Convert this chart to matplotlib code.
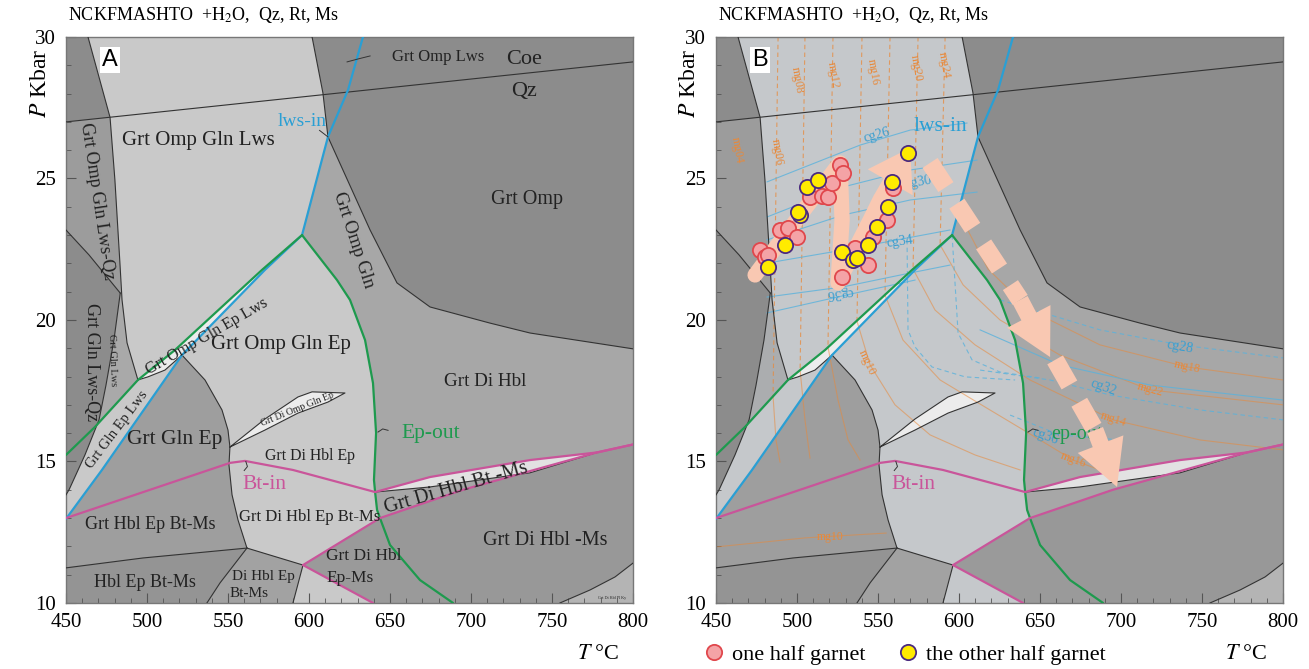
import matplotlib
matplotlib.use("Agg")
import matplotlib.pyplot as plt
from matplotlib.lines import Line2D

plt.rcParams["font.family"] = ["Liberation Serif", "DejaVu Serif"]
plt.rcParams["mathtext.fontset"] = "stix"

# ---- phase boundaries (T degC, P kbar) ----
coe_qz = [(450, 27.0), (800, 29.12)]
top_left = [(463.6, 30), (477.2, 27.16), (480.2, 24.95), (483.3, 22.01), (484.6, 20.71), (487.7, 19.19), (494.4, 17.88)]
lws_wedge = [(601.9, 30), (608.6, 28.02), (611.7, 26.47)]
omp_edge = [(611.7, 26.47), (637.7, 23.18), (654.3, 21.31), (674.7, 20.46), (711.7, 19.89), (736.4, 19.54), (800, 18.98)]
qz_edge = [(450, 23.18), (464.2, 22.3), (483.5, 20.95)]
gln_lws_edge = [(483.5, 20.95), (479.6, 19.29), (474.7, 17.7), (470.4, 16.47), (461.7, 15.23), (451.9, 14.0), (450, 13.82)]
lens_curve = [(494.4, 17.88), (500.6, 17.99), (511.1, 18.23), (521.6, 18.76)]
gln_ep_edge = [(521.6, 18.76), (535.8, 17.88), (546.3, 16.82), (550.0, 16.11), (551.2, 15.51), (550.6, 14.88), (552.5, 13.82), (556.2, 12.93), (561.7, 11.94)]
hbl_edge = [(450, 11.24), (497.5, 11.59), (561.7, 11.94)]
di_left = [(561.7, 11.94), (545.1, 10.71), (537.0, 10.0)]
di_right = [(561.7, 11.94), (596.3, 11.34), (590.1, 10.0)]
omp_lens = [(551.2, 15.51), (572.8, 16.5), (593.2, 17.28), (601.9, 17.46), (622.2, 17.42), (611.7, 17.1), (593.2, 16.71), (572.8, 16.11), (551.2, 15.51)]
bt_wedge = [(640.8, 13.92), (674.7, 14.1), (736.4, 14.6), (777.8, 15.32)]
corner_br = [(754.9, 10.0), (773.5, 10.46), (788.9, 10.92), (800, 11.41)]

lws_in = [(633.3, 30), (624.1, 28.13), (611.7, 26.47), (595.7, 23.0), (572.8, 21.77), (521.6, 18.76), (472.2, 14.7), (450, 12.97)]
ep_out_left = [(595.7, 23.0), (571.0, 21.77), (517.3, 18.94), (494.4, 17.88), (467.9, 16.22), (450, 15.23)]
ep_out = [(595.7, 23.0), (617.3, 21.41), (625.3, 20.71), (634.6, 19.29), (639.5, 17.77), (641.4, 16.01),
          (640.1, 14.35), (640.8, 13.92), (642.0, 13.29), (643.8, 13.0), (650.0, 12.05), (668.5, 10.81), (688.9, 10.0)]
bt_in = [(450, 13.0), (501.9, 14.0), (551.2, 14.95), (560.5, 15.02), (590.1, 14.7), (640.8, 13.92)]
bt_upper = [(640.8, 13.92), (674.7, 14.45), (736.4, 15.05), (777.8, 15.32), (800, 15.6)]
ms_out = [(596.3, 11.34), (643.8, 13.0), (695.0, 14.0), (777.8, 15.32), (800, 15.6)]
ms_low = [(596.3, 11.34), (639.5, 10.0)]

# ---- fields (polygons built from the boundaries) ----
fields = [
    ("dark", [(450, 30), (463.6, 30), (477.2, 27.16), (450, 27.0)]),
    ("dark", lws_wedge + omp_edge[1:] + [(800, 30)]),
    ("strip", [(450, 27.0), (477.2, 27.16), (480.2, 24.95), (483.3, 22.01), (483.5, 20.95), (464.2, 22.3), (450, 23.18)]),
    ("dark", qz_edge + gln_lws_edge[1:]),
    ("light", [(463.6, 30)] + lws_wedge + [(595.7, 23.0), (571.0, 21.77), (517.3, 18.94)] + top_left[::-1][:-1]),
    ("glnlws", [(483.5, 20.95), (484.6, 20.71), (487.7, 19.19), (494.4, 17.88), (469.2, 16.3), (470.4, 16.47), (474.7, 17.7), (479.6, 19.29)]),
    ("light", [(469.2, 16.3)] + lens_curve + [(472.2, 14.7), (450, 12.97), (450, 13.82), (451.9, 14.0), (461.7, 15.23)]),
    ("white", ep_out_left[:4] + lens_curve[1:] + [(572.8, 21.77)]),
    ("light", [(595.7, 23.0), (572.8, 21.77)] + gln_ep_edge + [(596.3, 11.34)] + ep_out[9:0:-1]),
    ("med", [(521.6, 18.76), (472.2, 14.7), (450, 12.97)] + hbl_edge + gln_ep_edge[-2:0:-1]),
    ("hbl", hbl_edge + di_left[1:] + [(450, 10.0)]),
    ("di", di_right + [(537.0, 10.0), (545.1, 10.71)]),
    ("light", [(590.1, 10.0), (596.3, 11.34), (639.5, 10.0)]),
    ("epms", [(596.3, 11.34)] + ep_out[9:] + [(639.5, 10.0)]),
    ("msout", ms_out[1:] + corner_br[::-1] + ep_out[12:9:-1]),
    ("corner", corner_br + [(800, 10.0)]),
    ("sliver", bt_upper[:4] + bt_wedge[-2:0:-1]),
    ("white", omp_lens),
]

black_lines = [coe_qz, top_left, lws_wedge, omp_edge, qz_edge, gln_lws_edge, lens_curve, gln_ep_edge,
               hbl_edge, di_left, di_right, omp_lens, bt_wedge, corner_br]

labels_a = [
    ("Grt Omp Lws", 679.6, 29.29, 12, 0),
    ("Coe", 733.0, 29.19, 16, 0),
    ("Qz", 733.0, 28.09, 16, 0),
    ("Grt Omp Gln Lws", 532.0, 26.33, 15, 0),
    ("Grt Omp", 734.6, 24.24, 14.5, 0),
    ("Grt Omp Gln", 627.2, 22.83, 13.5, -72),
    ("Grt Omp Gln Lws-Qz", 469.1, 24.2, 13, -81.5),
    ("Grt Gln Lws-Qz", 466.0, 18.52, 13, -90),
    ("Grt Gln Lws", 478.4, 18.6, 7.5, -88),
    ("Grt Omp Gln Ep Lws", 537.0, 19.43, 11.5, 30),
    ("Grt Gln Ep Lws", 481.5, 16.11, 10.5, 53),
    ("Grt Omp Gln Ep", 582.7, 19.12, 15, 0),
    ("Grt Di Omp Gln Ep", 592.6, 16.85, 7, 22),
    ("Grt Gln Ep", 517.3, 15.76, 15.5, 0),
    ("Grt Di Hbl", 708.6, 17.81, 13.8, 0),
    ("Grt Di Hbl Ep", 600.6, 15.19, 11.4, 0),
    ("Grt Di Hbl Bt -Ms", 690.7, 14.06, 14.5, 16),
    ("Grt Hbl Ep Bt-Ms", 501.9, 12.76, 13, 0),
    ("Grt Di Hbl Ep Bt-Ms", 600.6, 13.04, 12, 0),
    ("Grt Di Hbl -Ms", 745.7, 12.19, 14.5, 0),
    ("Grt Di Hbl", 634.0, 11.66, 12.5, 0),
    ("Ep-Ms", 625.3, 10.88, 12.5, 0),
    ("Hbl Ep Bt-Ms", 498.8, 10.74, 13, 0),
    ("Di Hbl Ep", 572.0, 10.92, 11, 0),
    ("Bt-Ms", 563.0, 10.35, 11, 0),
    ("Grt Di Hbl Pl Ky", 787.0, 10.18, 3, 0),
]

# ---- isopleths in panel B ----
mg_dashed = [
    [(488.3, 30), (485.2, 17.31)],
    [(504.9, 30), (501.9, 18.23)],
    [(522.2, 30), (519.1, 19.05)],
    [(540.1, 30), (537.0, 19.96)],
    [(557.4, 30), (554.3, 20.88)],
    [(574.7, 30), (571.6, 21.8)],
    [(591.4, 30), (588.3, 22.65)],
]
mg_solid = [
    [(485.2, 17.31), (487.0, 15.76), (489.5, 14.98)],
    [(501.9, 18.23), (504.9, 16.47), (508.0, 15.12)],
    [(519.1, 19.05), (525.3, 17.17), (531.5, 15.76), (538.9, 15.05)],
    [(537.0, 19.96), (545.1, 18.41), (560.5, 17.0), (582.1, 15.94), (609.9, 15.23), (637.7, 14.7)],
    [(554.3, 20.88), (565.4, 19.29), (588.3, 17.88), (619.1, 16.82), (650.0, 15.76), (670.4, 15.05), (687.0, 14.7)],
    [(571.6, 21.8), (585.2, 20.35), (609.9, 19.12), (643.8, 17.88), (695.1, 16.47), (748.8, 15.76), (800, 15.41)],
    [(588.3, 22.65), (602.5, 21.24), (625.3, 20.0), (662.3, 18.76), (717.9, 17.53), (800, 17.0)],
    [(603.7, 23.36), (617.9, 21.8), (643.8, 20.35), (687.0, 19.12), (740.7, 18.34), (800, 17.88)],
    [(450, 11.98), (505.0, 12.3), (555.0, 12.47)],
]
cg_solid = [
    [(481.5, 24.88), (538.9, 26.18), (569.8, 26.71), (604.9, 26.96)],
    [(481.5, 23.64), (528.4, 24.7), (569.8, 25.3), (611.1, 25.65)],
    [(481.5, 22.83), (528.4, 23.71), (569.8, 24.24), (611.1, 24.52)],
    [(481.5, 22.01), (528.4, 22.47), (561.7, 22.83), (594.4, 23.18)],
    [(481.5, 20.81), (528.4, 21.17), (569.8, 21.66), (594.4, 21.94)],
    [(481.5, 20.25), (535.8, 20.95), (572.8, 21.41)],
    [(613.0, 19.65), (662.3, 18.41), (717.9, 17.7), (800, 17.17)],
]
cg_dashed = [
    [(625.3, 20.71), (687.0, 19.65), (736.4, 19.12), (800, 18.66)],
    [(613.0, 18.23), (656.2, 17.88), (693.2, 17.35), (748.8, 16.82), (800, 16.47)],
    [(631.5, 16.64), (662.3, 15.94), (699.4, 15.76)],
    [(567.9, 22.83), (568.5, 19.65), (572.8, 19.05), (583.3, 18.34), (603.7, 17.99), (634.6, 17.88)],
    [(595.7, 23.0), (599.4, 19.54), (608.0, 18.59), (625.3, 18.16), (650.0, 17.95)],
]
mg_labels = [
    ("mg04", 463.0, 26.0, -80), ("mg06", 487.7, 25.94, -80), ("mg08", 500.0, 28.48, -80),
    ("mg12", 522.2, 28.66, -80), ("mg16", 546.9, 28.76, -80), ("mg20", 573.5, 28.9, -80),
    ("mg24", 590.7, 29.0, -80), ("mg10", 543.2, 18.48, -65), ("mg10", 520.4, 12.33, 0),
    ("mg18", 740.7, 18.34, -12), ("mg22", 717.9, 17.53, -15), ("mg14", 695.1, 16.47, -18),
    ("mg16", 670.4, 15.05, -20),
]
cg_labels = [
    ("cg26", 549.4, 26.54, 15), ("cg30", 574.7, 24.88, 10), ("cg34", 563.6, 22.76, 8),
    ("cg36", 526.5, 20.95, 185), ("cg28", 736.4, 19.05, -10), ("cg32", 688.9, 17.6, -20),
    ("cg36", 653.1, 15.87, -20),
]

# ---- garnet P-T points ----
half1_T = [477.2, 480.2, 482.1, 489.5, 494.4, 500.0, 508.0, 515.4, 519.1, 521.6, 526.5, 528.4,
           527.8, 535.8, 543.8, 546.9, 555.6, 559.3]
half1_P = [22.47, 22.23, 22.30, 23.18, 23.25, 22.93, 24.35, 24.38, 24.35, 24.84, 25.48, 25.19,
           21.52, 22.54, 21.94, 22.93, 23.53, 24.66]
half2_T = [482.1, 492.6, 501.9, 500.6, 506.2, 513.0, 527.8, 534.6, 537.0, 543.8, 549.4, 556.2, 558.6, 568.5]
half2_P = [21.87, 22.65, 23.71, 23.82, 24.70, 24.95, 22.40, 22.12, 22.19, 22.65, 23.29, 23.99, 24.88, 25.90]

# P-T path arrows
path_up = [(474.1, 21.59), (501.9, 23.71), (526.5, 25.55), (527.8, 23.53), (525.3, 21.31), (545.1, 23.53), (551.2, 24.24)]
path_up_tip = (569.8, 26.08)
path_down1 = [(582.1, 25.55), (637.7, 20.71)]
path_down1_tip = (656.2, 18.69)
path_down2 = [(659.3, 18.59), (684.0, 16.11)]
path_down2_tip = (697.5, 14.1)

BLUE = "#2a9fd4"
GREEN = "#1e9a4e"
PINK = "#c9559a"
ORANGE = "#e8893a"
PEACH = "#f9c8b2"

shades_a = {"dark": "#8c8c8c", "strip": "#9c9c9c", "glnlws": "#a9a9a9", "light": "#c9c9c9",
            "white": "#ececec", "med": "#9e9e9e", "hbl": "#949494", "di": "#a2a2a2",
            "epms": "#9a9a9a", "msout": "#989898", "corner": "#b4b4b4", "sliver": "#e2e2e2"}
shades_b = dict(shades_a, light="#c5c8cb", glnlws="#abadaf")


def xy(pts):
    return [p[0] for p in pts], [p[1] for p in pts]


def draw_section(ax, shades):
    ax.set_facecolor("#a7a7a7")
    for key, poly in fields:
        t, p = xy(poly)
        ax.fill(t, p, color=shades[key], lw=0, zorder=1)
    for line in black_lines:
        t, p = xy(line)
        ax.plot(t, p, color="#333333", lw=0.8, zorder=3)
    for line, c in [(lws_in, BLUE), (ep_out_left, GREEN), (ep_out, GREEN), (bt_in, PINK),
                    (bt_upper, PINK), (ms_out, PINK), (ms_low, PINK)]:
        t, p = xy(line)
        ax.plot(t, p, color=c, lw=1.6, zorder=4, solid_capstyle="round")
    ax.set_xlim(450, 800)
    ax.set_ylim(10, 30)
    ax.set_xticks(range(450, 801, 50))
    ax.set_xticks(range(450, 801, 10), minor=True)
    ax.set_yticks(range(10, 31, 5))
    ax.set_yticks(range(10, 31, 1), minor=True)
    ax.tick_params(which="both", direction="in", top=False, right=False, color="#555555",
                   labelsize=15, pad=7)
    ax.tick_params(which="major", length=7)
    ax.tick_params(which="minor", length=3.5)
    for s in ax.spines.values():
        s.set_color("#777777")
        s.set_linewidth(1.0)


fig = plt.figure(figsize=(13.09, 6.69), dpi=100)
axA = fig.add_axes([0.0504, 0.0987, 0.4332, 0.846])
axB = fig.add_axes([0.547, 0.0987, 0.4332, 0.846])

# ---------- panel A ----------
draw_section(axA, shades_a)
for txt, t, p, fs, rot in labels_a:
    axA.text(t, p, txt, fontsize=fs, rotation=rot, ha="center", va="center",
             color="#222222", zorder=5, rotation_mode="anchor")
axA.text(596.0, 27.0, "lws-in", color=BLUE, fontsize=14, ha="center", va="center", zorder=5)
axA.text(675.3, 16.0, "Ep-out", color=GREEN, fontsize=15.5, ha="center", va="center", zorder=5)
axA.text(572.8, 14.17, "Bt-in", color=PINK, fontsize=15.5, ha="center", va="center", zorder=5)
for lead in ([(623.5, 29.12), (630.0, 29.22), (637.7, 29.33)], [(606.5, 26.7), (611.7, 26.47)],
             [(642.6, 16.04), (645.5, 16.15), (648.8, 16.1)], [(561.0, 15.0), (562.0, 14.82), (560.0, 14.68)]):
    t, p = xy(lead)
    axA.plot(t, p, color="#333333", lw=0.7, zorder=5)
axA.text(477.2, 29.19, "A", family=["Liberation Sans", "DejaVu Sans"], fontsize=17, ha="center",
         va="center", zorder=6, bbox=dict(facecolor="white", edgecolor="none", pad=1.5))

# ---------- panel B ----------
draw_section(axB, shades_b)
for line in mg_dashed:
    t, p = xy(line)
    axB.plot(t, p, color=ORANGE, lw=0.8, ls=(0, (4, 3)), alpha=0.75, zorder=2)
for line in mg_solid:
    t, p = xy(line)
    axB.plot(t, p, color=ORANGE, lw=0.8, alpha=0.55, zorder=2)
for line in cg_solid:
    t, p = xy(line)
    axB.plot(t, p, color="#5ab2dc", lw=0.8, alpha=0.8, zorder=2)
for line in cg_dashed:
    t, p = xy(line)
    axB.plot(t, p, color="#5ab2dc", lw=0.8, ls=(0, (4, 3)), alpha=0.8, zorder=2)
for txt, t, p, rot in mg_labels:
    axB.text(t, p, txt, color=ORANGE, fontsize=8.5, rotation=rot, ha="center", va="center", zorder=2.5)
for txt, t, p, rot in cg_labels:
    axB.text(t, p, txt, color="#3a9ed0", fontsize=10, rotation=rot, ha="center", va="center", zorder=2.5)

axB.text(588.3, 26.82, "lws-in", color=BLUE, fontsize=15.5, ha="center", va="center", zorder=5)
axB.text(571.6, 14.17, "Bt-in", color=PINK, fontsize=15.5, ha="center", va="center", zorder=5)
axB.text(672.8, 15.94, "ep-out", color=GREEN, fontsize=14.5, ha="center", va="center", zorder=5)
for lead in ([(642.6, 16.04), (645.5, 16.15), (648.8, 16.1)], [(561.0, 15.0), (562.0, 14.82), (560.0, 14.68)]):
    t, p = xy(lead)
    axB.plot(t, p, color="#333333", lw=0.7, zorder=5)
axB.text(477.2, 29.19, "B", family=["Liberation Sans", "DejaVu Sans"], fontsize=17, ha="center",
         va="center", zorder=6, bbox=dict(facecolor="white", edgecolor="none", pad=1.5))

# P-T paths
t, p = xy(path_up)
axB.plot(t, p, color=PEACH, lw=11, solid_capstyle="round", solid_joinstyle="round", zorder=6)
axB.annotate("", xy=path_up_tip, xytext=path_up[-1], zorder=6,
             arrowprops=dict(arrowstyle="simple,head_length=1.3,head_width=1.7,tail_width=0.5",
                             color=PEACH, lw=0, shrinkA=0, shrinkB=0, mutation_scale=22))
for seg, tip in ((path_down1, path_down1_tip), (path_down2, path_down2_tip)):
    t, p = xy(seg)
    axB.plot(t, p, color=PEACH, lw=13, ls=(0, (1.6, 1.1)), dash_capstyle="butt", zorder=6)
    axB.annotate("", xy=tip, xytext=seg[-1], zorder=6,
                 arrowprops=dict(arrowstyle="simple,head_length=1.5,head_width=1.6,tail_width=0.55",
                                 color=PEACH, lw=0, shrinkA=0, shrinkB=0, mutation_scale=22))

axB.scatter(half1_T, half1_P, s=120, facecolor="#f4a3a6", edgecolor="#e0474c", lw=1.3, zorder=7)
axB.scatter(half2_T, half2_P, s=120, facecolor="#ffeb00", edgecolor="#4a2a80", lw=1.3, zorder=7)

# ---------- figure text ----------
title = "NCKFMASHTO  +H$_2$O,  Qz, Rt, Ms"
fig.text(0.052, 0.978, title, fontsize=13, ha="left", va="center")
fig.text(0.5485, 0.978, title, fontsize=13, ha="left", va="center")
for x in (0.031, 0.527):
    fig.text(x, 0.875, "$P$ Kbar", rotation=90, fontsize=17, ha="center", va="center")
for x in (0.457, 0.952):
    fig.text(x, 0.021, "$T$ °C", fontsize=16, ha="center", va="center")

handles = [Line2D([], [], ls="", marker="o", ms=11, mfc="#f4a3a6", mec="#e0474c", mew=1.3),
           Line2D([], [], ls="", marker="o", ms=11, mfc="#ffeb00", mec="#4a2a80", mew=1.3)]
fig.legend(handles, ["one half garnet", "the other half garnet"], loc="center left",
           bbox_to_anchor=(0.522, 0.021), ncol=2, frameon=False, fontsize=16,
           handletextpad=0.3, columnspacing=1.4, handlelength=1.0)

fig.savefig("out.png", dpi=100)
